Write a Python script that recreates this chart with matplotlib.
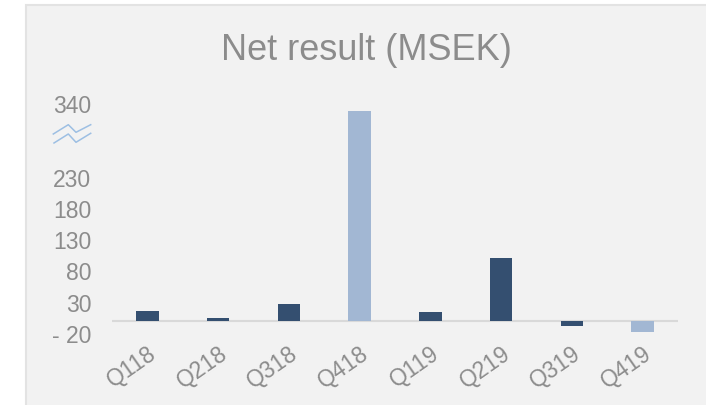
import matplotlib
matplotlib.use("Agg")
import matplotlib.pyplot as plt
from matplotlib.patches import Rectangle
from matplotlib.lines import Line2D

plt.rcParams['font.family'] = ['Liberation Sans', 'DejaVu Sans']

categories = ["Q118", "Q218", "Q318", "Q418", "Q119", "Q219", "Q319", "Q419"]
net_result = [15, 4, 26, 335, 13, 100, -9, -18]
bar_colors = ["#344f70", "#344f70", "#344f70", "#a2b7d3",
              "#344f70", "#344f70", "#344f70", "#a2b7d3"]
ytick_values = [-20, 30, 80, 130, 180, 230, 348]
ytick_labels = ["- 20", "30", "80", "130", "180", "230", "340"]
title = "Net result (MSEK)"

W, H = 706, 406
fig = plt.figure(figsize=(W / 100, H / 100), dpi=100)
fig.patch.set_facecolor("white")

# gray panel
panel = Rectangle((26 / W, -0.05), 1.0, 1 - 6 / H + 0.05,
                  transform=fig.transFigure, facecolor="#f2f2f2",
                  edgecolor="#e3e3e3", linewidth=1.5, zorder=-10)
fig.patches.append(panel)

ax = fig.add_axes([112 / W, 1 - 334 / H, (678 - 112) / W, (334 - 102.75) / H])
ax.set_zorder(5)
ax.set_facecolor("none")
x = list(range(len(categories)))
ax.bar(x, net_result, width=0.32, color=bar_colors, zorder=2)
ax.axhline(0, color="#d9d9d9", linewidth=1.5, zorder=1)
ax.set_xlim(-0.5, len(categories) - 0.5)
ax.set_ylim(-20, 350)
for s in ax.spines.values():
    s.set_visible(False)
ax.set_yticks(ytick_values)
ax.set_yticklabels(ytick_labels)
ax.set_xticks(x)
ax.set_xticklabels(categories, rotation=35, ha="right", va="top",
                   rotation_mode="anchor")
ax.tick_params(axis="y", length=0, pad=15, labelsize=16.5, labelcolor="#8c8c8c")
ax.tick_params(axis="x", length=0, pad=6, labelsize=16.5, labelcolor="#8c8c8c")

# title
fig.text(366 / W, 1 - 60 / H, title, ha="center", va="baseline",
         fontsize=26, color="#8c8c8c", zorder=6)

# axis break symbol
def px(pts):
    return [p[0] / W for p in pts], [1 - p[1] / H for p in pts]

for pts in ([(53.3, 135), (68.3, 125.7), (76, 133.3), (90.7, 125.7)],
            [(54, 144), (68.3, 135), (76, 143.3), (90.7, 134.3)]):
    xs, ys = px(pts)
    ln = Line2D(xs, ys, transform=fig.transFigure, color="#9dbfe3",
                linewidth=1.1, zorder=6)
    fig.lines.append(ln)

fig.savefig("out.png", dpi=100)
